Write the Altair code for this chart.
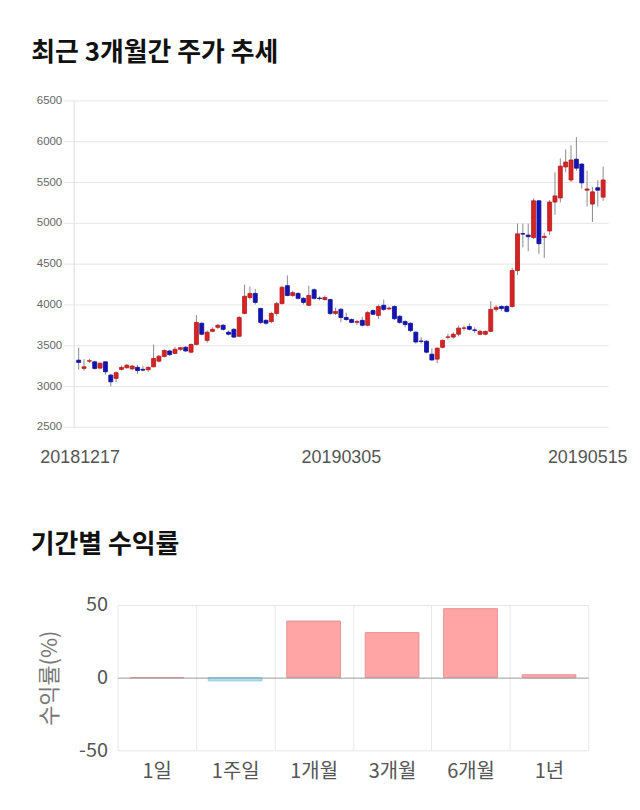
import altair as alt
import pandas as pd

# ---- candlestick data ----
opens = [3317, 3216, 3305, 3297, 3220, 3297, 3134, 3094, 3204, 3224,
         3210, 3230, 3205, 3200, 3236, 3305, 3362, 3430, 3400, 3450,
         3475, 3415, 3510, 3770, 3560, 3670, 3720, 3745, 3660, 3695,
         3610, 3890, 4085, 4135, 3950, 3805, 3790, 3890, 4010, 4230,
         4110, 4135, 4075, 3990, 4180, 4078, 4060, 4060, 3890, 3940,
         3840, 3815, 3780, 3805, 3745, 3925, 3865, 3990, 3945, 3975,
         3855, 3790, 3770, 3660, 3552, 3550, 3390, 3330, 3475, 3598,
         3600, 3635, 3708, 3730, 3688, 3635, 3635, 3670, 3940, 3975,
         3975, 3975, 4415, 4868, 4850, 4820, 5270, 4820, 4900, 5255,
         5305, 5685, 5525, 5780, 5720, 5400, 5230, 5430, 5315]
highs = [3470, 3330, 3335, 3310, 3290, 3305, 3150, 3180, 3250, 3270,
         3260, 3260, 3250, 3240, 3510, 3380, 3450, 3440, 3480, 3480,
         3490, 3520, 3870, 3780, 3680, 3720, 3760, 3760, 3680, 3710,
         3860, 4245, 4220, 4190, 3960, 3820, 3910, 4030, 4230, 4355,
         4170, 4150, 4090, 4230, 4200, 4100, 4110, 4070, 3960, 3960,
         3900, 3830, 3810, 3850, 3920, 3940, 4000, 4060, 3975, 3990,
         3870, 3810, 3780, 3670, 3600, 3560, 3460, 3470, 3570, 3640,
         3660, 3740, 3740, 3770, 3720, 3690, 3680, 4040, 3990, 3990,
         3990, 4450, 4990, 4990, 4990, 5300, 5280, 4880, 5280, 5620,
         5790, 5900, 5950, 6050, 5730, 5640, 5440, 5520, 5690]
lows = [3200, 3190, 3280, 3200, 3205, 3140, 2995, 3050, 3190, 3215,
        3200, 3150, 3180, 3175, 3230, 3290, 3350, 3370, 3390, 3430,
        3420, 3400, 3500, 3620, 3530, 3660, 3700, 3680, 3620, 3590,
        3600, 3880, 4060, 4000, 3760, 3750, 3770, 3860, 4000, 4100,
        4090, 4060, 4000, 3980, 4060, 4050, 4050, 3870, 3870, 3780,
        3800, 3770, 3750, 3730, 3730, 3870, 3820, 3920, 3930, 3810,
        3760, 3720, 3660, 3520, 3520, 3400, 3310, 3280, 3460, 3570,
        3580, 3610, 3680, 3680, 3650, 3620, 3620, 3660, 3910, 3920,
        3900, 3960, 4360, 4700, 4650, 4800, 4620, 4570, 4850, 5100,
        5250, 5620, 5500, 5640, 5420, 5200, 5010, 5200, 5270]
closes = [3290, 3236, 3310, 3216, 3280, 3175, 3052, 3163, 3228, 3256,
          3245, 3190, 3195, 3230, 3338, 3365, 3436, 3385, 3450, 3470,
          3430, 3510, 3780, 3635, 3660, 3695, 3745, 3695, 3635, 3600,
          3840, 4100, 4135, 4025, 3780, 3770, 3890, 4010, 4210, 4110,
          4145, 4075, 4025, 4110, 4075, 4072, 4085, 3890, 3915, 3840,
          3815, 3780, 3790, 3745, 3900, 3880, 3975, 3940, 3955, 3825,
          3780, 3755, 3680, 3540, 3548, 3415, 3320, 3465, 3560, 3602,
          3635, 3710, 3712, 3695, 3682, 3670, 3670, 3940, 3965, 3950,
          3915, 4415, 4865, 4862, 4830, 5270, 4745, 4835, 5255, 5330,
          5695, 5745, 5770, 5670, 5490, 5415, 5380, 5400, 5525]

x_tick_idx = [0, 49, 98]
x_tick_labels = ["20181217", "20190305", "20190515"]
x_label_shift = [1, 0, -16]
y_ticks = [2500, 3000, 3500, 4000, 4500, 5000, 5500, 6000, 6500]

# ---- period returns ----
periods = ["1일", "1주일", "1개월", "3개월", "6개월", "1년"]
returns = [0.0, -2.2, 39.0, 31.0, 47.5, 2.0]
ret_ticks = [-50, 0, 50]

RED = "#d42424"
BLUE = "#1414b4"

df = pd.DataFrame({"i": list(range(len(opens))), "open": opens, "high": highs,
                   "low": lows, "close": closes})
df["dir"] = ["up" if c >= o else "down" for o, c in zip(opens, closes)]

label_expr = ""
offset_expr = ""
for idx, lab, sh in zip(x_tick_idx, x_tick_labels, x_label_shift):
    label_expr += f"datum.value == {idx} ? '{lab}' : "
    offset_expr += f"datum.value == {idx} ? {sh} : "
label_expr += "''"
offset_expr += "0"

xs = alt.X("i:Q",
           scale=alt.Scale(domain=[0, len(opens) - 1], nice=False, zero=False),
           axis=alt.Axis(values=x_tick_idx, labelExpr=label_expr, grid=False, ticks=False,
                         domain=False, labelFontSize=18, labelColor="#555",
                         labelFont="Liberation Sans", labelPadding=22, labelFlush=False,
                         labelOffset={"expr": offset_expr}, title=None))
ys = alt.Y("low:Q",
           scale=alt.Scale(domain=[2500, 6500], nice=False, zero=False),
           axis=alt.Axis(values=y_ticks, format="d", grid=True, gridColor="#e6e6e6",
                         tickColor="#e6e6e6", tickSize=10, labelPadding=2, labelFontSize=11.5,
                         labelColor="#666", labelFont="Liberation Sans", domain=True,
                         domainColor="#dcdcdc", title=None))

base = alt.Chart(df)
wick = base.mark_rule(color="#8a8a8a", strokeWidth=1).encode(x=xs, y=ys, y2="high:Q")
body = base.mark_bar(size=4, strokeWidth=0.8).encode(
    x="i:Q", y="open:Q", y2="close:Q",
    color=alt.Color("dir:N", scale=alt.Scale(domain=["up", "down"], range=[RED, BLUE]), legend=None),
    stroke=alt.Stroke("dir:N", scale=alt.Scale(domain=["up", "down"], range=["#b81818", "#0c0c9a"]), legend=None),
)
top = alt.layer(wick, body).properties(
    width=537, height=328,
    title=alt.TitleParams("최근 3개월간 주가 추세", anchor="start", fontSize=26, fontWeight="bold",
                          font="Noto Sans CJK KR", color="#111", offset=29, dx=-5),
)

bdf = pd.DataFrame({"period": periods, "ret": returns})
bdf["sign"] = ["neg" if r < 0 else "pos" for r in returns]

bars = alt.Chart(bdf).mark_bar(strokeWidth=1, size=54).encode(
    x=alt.X("period:N", sort=periods,
            scale=alt.Scale(paddingInner=0, paddingOuter=0, range=[44, 517]),
            axis=alt.Axis(tickBand="extent", grid=True, gridColor="#e8e8e8", ticks=False,
                          domain=False, labelAngle=0, labelFontSize=20, labelColor="#555",
                          labelPadding=11, labelFont="Noto Sans CJK KR", title=None)),
    y=alt.Y("ret:Q", scale=alt.Scale(domain=[-50, 50], nice=False),
            axis=alt.Axis(values=ret_ticks, labelExpr="'' + datum.value", grid=True,
                          gridColor={"condition": {"test": "datum.value == 0", "value": "#9a9a9a"},
                                     "value": "#e6e6e6"},
                          ticks=False, domain=False, labelFontSize=20, offset=-44, zindex=1,
                          labelColor="#555", labelPadding=10, labelFont="Noto Sans CJK KR",
                          title="수익률(%)", titleFontSize=22, titleColor="#777",
                          titleFontWeight="normal", titlePadding=17,
                          titleFont="Noto Sans CJK KR")),
    color=alt.Color("sign:N", scale=alt.Scale(domain=["pos", "neg"], range=["#ffa5a5", "#a9e2f3"]), legend=None),
    stroke=alt.Stroke("sign:N", scale=alt.Scale(domain=["pos", "neg"], range=["#e89494", "#86cde6"]), legend=None),
)

bottom = bars.properties(
    width=517, height=146,
    title=alt.TitleParams("기간별 수익률", anchor="start", fontSize=26, fontWeight="bold",
                          font="Noto Sans CJK KR", color="#111", offset=37, dx=-8),
)

chart = alt.vconcat(top, bottom, spacing=66).resolve_scale(
    color="independent", stroke="independent"
).properties(
    padding={"left": 22, "top": 30, "right": 4, "bottom": 5},
    background="white",
).configure_view(stroke=None)

chart.save("out.html", embed_options={"renderer": "svg", "actions": False})
